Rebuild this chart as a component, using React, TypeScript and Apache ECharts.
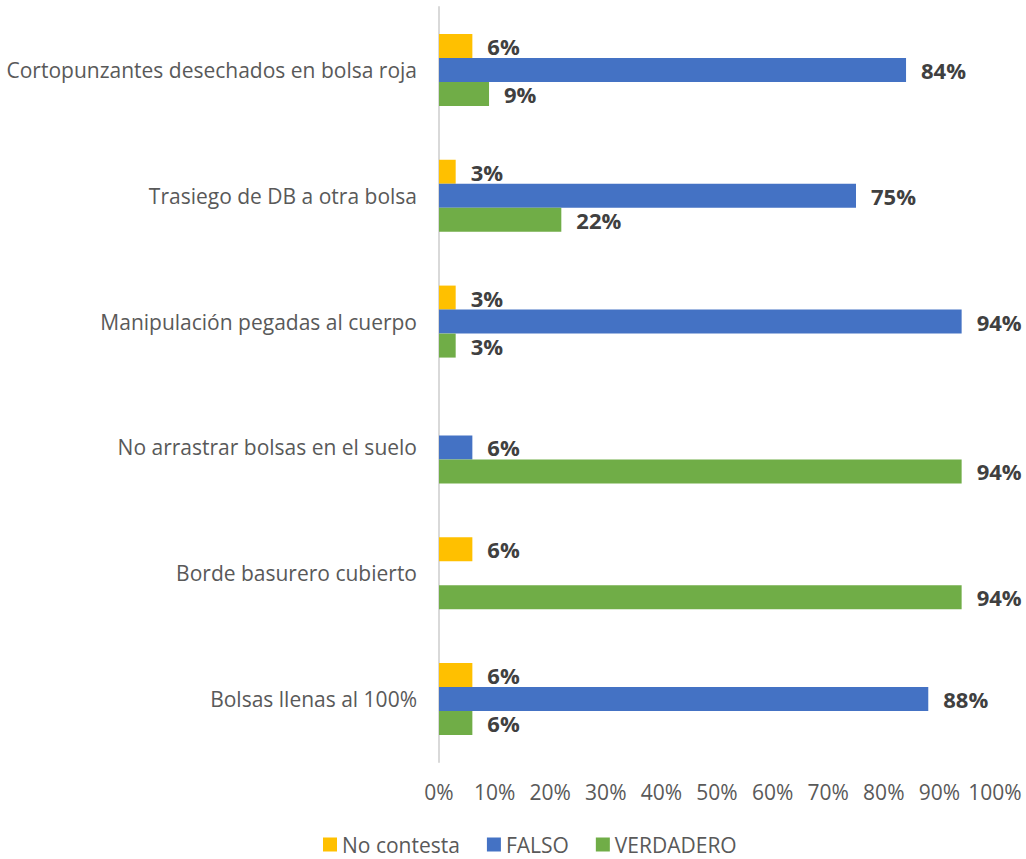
import React, { useEffect, useRef } from "react";
import * as echarts from "echarts";

const categories = [
  "Cortopunzantes desechados en bolsa roja",
  "Trasiego de DB a otra bolsa",
  "Manipulación pegadas al cuerpo",
  "No arrastrar bolsas en el suelo",
  "Borde basurero cubierto",
  "Bolsas llenas al 100%",
];
const noContesta: (number | null)[] = [6, 3, 3, null, 6, 6];
const falso: (number | null)[] = [84, 75, 94, 6, null, 88];
const verdadero: (number | null)[] = [9, 22, 3, 94, 94, 6];
const xTicks = { min: 0, max: 100, interval: 10 };

const FONT = "'Open Sans', 'Noto Sans', sans-serif";

export default function App() {
  const ref = useRef<HTMLDivElement>(null);
  useEffect(() => {
    if (!ref.current) return;
    const chart = echarts.init(ref.current, undefined, { renderer: "svg" });
    const label = {
      show: true,
      position: "right" as const,
      distance: 15,
      formatter: "{c}%",
      fontSize: 22,
      fontWeight: "bold" as const,
      color: "#404040",
      fontFamily: FONT,
    };
    const mk = (name: string, data: (number | null)[], color: string) => ({
      name,
      type: "bar" as const,
      data,
      barWidth: 24,
      barGap: "0%",
      itemStyle: { color },
      label,
    });
    chart.setOption({
      animation: false,
      textStyle: { fontFamily: FONT },
      grid: { left: 439, right: 31, top: 7, bottom: 97, containLabel: false },
      legend: {
        top: 829,
        left: 318,
        icon: "rect",
        itemWidth: 14,
        itemHeight: 14,
        itemGap: 27,
        textStyle: { fontSize: 21, color: "#595959", fontFamily: FONT },
        data: ["No contesta", "FALSO", "VERDADERO"],
      },
      xAxis: {
        type: "value",
        min: xTicks.min,
        max: xTicks.max,
        interval: xTicks.interval,
        axisLine: { show: false },
        axisTick: { show: false },
        splitLine: { show: false },
        axisLabel: {
          formatter: "{value}%",
          fontSize: 21,
          color: "#595959",
          margin: 19,
          fontFamily: FONT,
        },
      },
      yAxis: {
        type: "category",
        inverse: true,
        data: categories,
        axisLine: { show: true, lineStyle: { color: "#d9d9d9", width: 2 } },
        axisTick: { show: false },
        axisLabel: { fontSize: 21, color: "#595959", margin: 22, fontFamily: FONT },
      },
      series: [
        mk("No contesta", noContesta, "#FFC000"),
        mk("FALSO", falso, "#4472C4"),
        mk("VERDADERO", verdadero, "#70AD47"),
      ],
    });
    return () => chart.dispose();
  }, []);
  return (
    <div
      ref={ref}
      style={{ position: "fixed", left: 0, top: 0, width: 1026, height: 859, background: "#fff" }}
    />
  );
}
